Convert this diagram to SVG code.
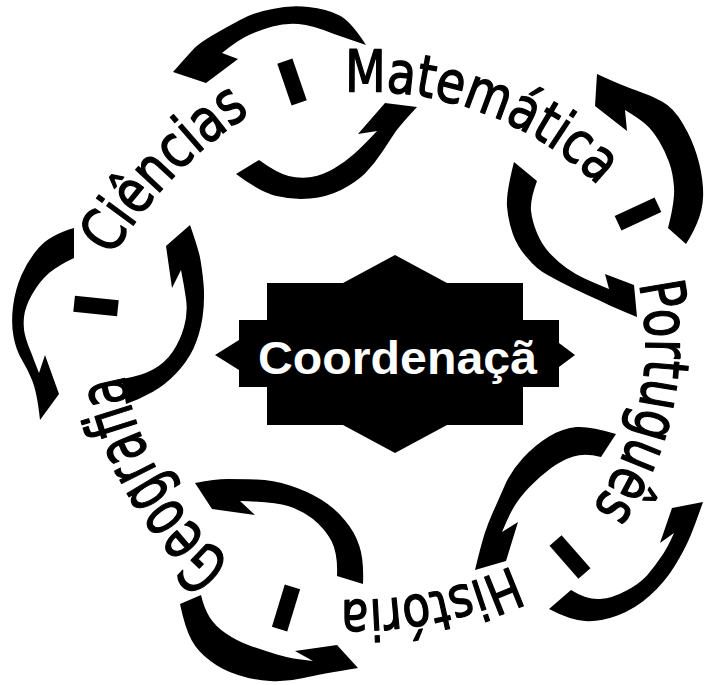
<svg xmlns="http://www.w3.org/2000/svg" xmlns:xlink="http://www.w3.org/1999/xlink" width="705" height="685" viewBox="0 0 705 685">
<style>
.k{fill:#000;stroke:none}
.w{font-family:"DejaVu Sans Condensed","DejaVu Sans",sans-serif;fill:#000;stroke:#000;stroke-width:1.3;stroke-linejoin:round}
.c{font-family:"Liberation Sans",Arial,sans-serif;font-weight:bold;fill:#fff}
</style>
<defs>
<rect id="bar" x="-8" y="-22" width="16" height="44"/>
<path id="pC" d="M 112,257 A 450 450 0 0 1 250,114" fill="none"/>
<path id="pM" d="M 345,92 A 340 340 0 0 1 598,185" fill="none"/>
<path id="pP" d="M 639,284 A 280 280 0 0 1 591,510" fill="none"/>
<path id="pH" d="M 512,566 A 380 380 0 0 1 342,600" fill="none"/>
<path id="pG" d="M 232,562 A 318 318 0 0 1 124,374" fill="none"/>
</defs>
<rect width="705" height="685" fill="#fff"/>
<g id="connectors" class="k">
<path d="M 366,45 Q 350,20 338.5,15 Q 327,9 308.5,7 Q 290,5 272.5,9 Q 255,12 240,20 Q 225,28 213,35 Q 201,42 194.5,48 Q 188,55 173,72 L 206,83 L 238,59 L 222,53 Q 238,40 249,35 Q 260,30 272.5,26.5 Q 285,23 298.5,24 Q 312,25 334,34 Z"/>
<path d="M 236,174 Q 260,192 276.5,196 Q 293,200 310,198.5 Q 327,197 341,190 Q 355,183 365,173.5 Q 375,163 382.5,151.5 Q 390,140 396,131 Q 403,122 417,107 L 385,103 L 358,134 L 377,131 Q 363,146 354,154 Q 345,162 334,168.5 Q 323,175 311.5,177 Q 300,179 288.5,176 Q 277,173 259,160 Z"/>
<path d="M 686,244 Q 695,230 699.5,216.5 Q 704,203 703,188 Q 702,172 697,155.5 Q 692,139 683,124 Q 674,108 662,101.5 Q 650,95 636.5,90.5 Q 623,86 597,74 L 595,106 L 627,131 L 625,110 Q 640,119 646.5,125 Q 653,131 659,141 Q 665,151 669,162 Q 673,173 674,187 Q 675,201 668,228 Z"/>
<path d="M 514,162 Q 506,193 507,206.5 Q 508,220 513,234.5 Q 518,248 527.5,258 Q 536,269 548.5,275.5 Q 560,282 573.5,288.5 Q 587,295 598.5,300 Q 610,306 637,317 L 634,285 L 605,274 L 609,289 Q 592,282 583.5,278 Q 575,274 566.5,268 Q 558,262 550,253.5 Q 542,245 537,233 Q 532,221 531,210.5 Q 530,200 537,181 Z"/>
<path d="M 616,434 Q 590,426 576.5,427 Q 563,428 549,436.5 Q 535,445 523,458 Q 511,471 504.5,486 Q 498,501 493,512 Q 488,523 484.5,534 Q 481,545 475,570 L 506,561 L 518,522 L 502,532 Q 509,515 514.5,506 Q 520,497 529.5,487 Q 539,477 550.5,468.5 Q 562,460 573.5,456.5 Q 585,453 601,457 Z"/>
<path d="M 549,609 Q 570,620 585,621 Q 600,622 617.5,615.5 Q 635,609 650,595.5 Q 665,582 675,565.5 Q 685,549 690,537 Q 695,525 703,502 L 672,508 L 660,543 L 674,533 Q 667,549 661,557 Q 655,566 647,575.5 Q 638,585 625.5,591 Q 613,598 600,599 Q 587,600 571,590 Z"/>
<path d="M 363,584 Q 364,560 359.5,546.5 Q 355,532 345,520.5 Q 335,508 321,499.5 Q 307,491 290,485.5 Q 273,480 256.5,479.5 Q 240,479 227.5,479 Q 215,479 195,483 L 212,509 L 255,515 L 240,501 Q 275,502 288,506 Q 301,510 313,519 Q 325,529 331.5,541 Q 338,554 337,576 Z"/>
<path d="M 180,604 Q 185,628 191.5,640 Q 198,652 210.5,661 Q 222,670 238,675 Q 253,680 270,681 Q 287,682 303.5,678 Q 320,674 358,668 L 337,645 L 295,651 L 313,661 Q 292,659 277,654.5 Q 262,650 249.5,645.5 Q 237,641 226,633.5 Q 215,626 209.5,617 Q 204,608 201,595 Z"/>
<path d="M 74,228 Q 50,235 39,247.5 Q 28,260 21.5,275 Q 15,290 13,306.5 Q 11,323 13.5,336.5 Q 16,350 22,360 Q 28,370 32,380 Q 37,392 40,420 L 59,394 L 45,355 L 39,373 Q 35,363 31.5,353.5 Q 27,343 25,335 Q 23,327 24,317 Q 25,307 32,294.5 Q 39,282 49,273 Q 59,265 74,258 Z"/>
<path d="M 126,404 Q 140,399 152.5,392 Q 165,385 176,373.5 Q 187,362 193.5,348.5 Q 200,334 202.5,317.5 Q 205,300 203.5,283.5 Q 202,267 199.5,255 Q 196,242 190,225 L 166,246 L 172,288 L 181,270 Q 184,285 186,299 Q 188,313 184,327 Q 180,341 172.5,352 Q 165,363 153,369.5 Q 141,376 122,379 Z"/>
<use href="#bar" transform="translate(292,82) rotate(-19)"/>
<use href="#bar" transform="translate(638,214) rotate(65)"/>
<use href="#bar" transform="translate(570,557) rotate(-41)"/>
<use href="#bar" transform="translate(286,608) rotate(17)"/>
<use href="#bar" transform="translate(96,306) rotate(96)"/>
</g>
<g id="coordenacao">
<polygon class="k" points="395,255 447,283 523,283 523,320 559,320 559,343 575,355 559,367 559,387 523,387 523,425 447,425 395,453 343,425 267,425 267,387 239,387 239,370 215,355 239,340 239,320 267,320 267,283 343,283"/>
<text class="c" x="258" y="374" font-size="47" textLength="279" lengthAdjust="spacingAndGlyphs">Coordenaçã</text>
</g>
<g id="ciencias"><text class="w" font-size="60"><textPath href="#pC" textLength="201" lengthAdjust="spacingAndGlyphs">Ciências</textPath></text></g>
<g id="matematica"><text class="w" font-size="58"><textPath href="#pM" textLength="278" lengthAdjust="spacingAndGlyphs">Matemática</textPath></text></g>
<g id="portugues"><text class="w" font-size="62"><textPath href="#pP" textLength="236" lengthAdjust="spacingAndGlyphs">Português</textPath></text></g>
<g id="historia"><text class="w" font-size="56"><textPath href="#pH" textLength="176" lengthAdjust="spacingAndGlyphs">História</textPath></text></g>
<g id="geografia"><text class="w" font-size="69"><textPath href="#pG" textLength="221" lengthAdjust="spacingAndGlyphs">Geografia</textPath></text></g>
</svg>
